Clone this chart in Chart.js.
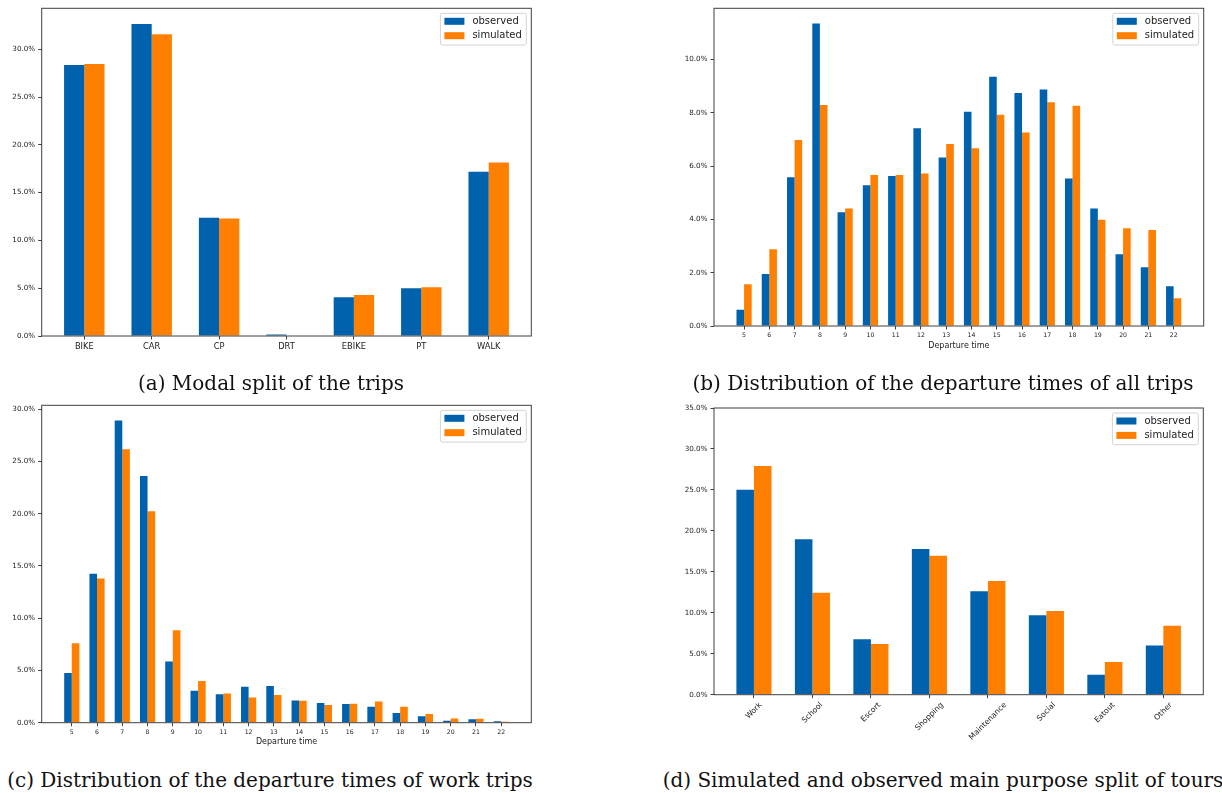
<!DOCTYPE html>
<html lang="en">
<head>
    <meta charset="UTF-8">
    <title>Observed vs simulated trips</title>
    <script src="https://cdn.jsdelivr.net/npm/chart.js"></script>
    <style>
        body { margin: 0; background: #fff; }
        #page { position: relative; width: 1222px; height: 793px; overflow: hidden; }
        canvas { position: absolute; }
        .cap {
            position: absolute; width: 600px; text-align: center;
            font: 20px "DejaVu Serif"; line-height: 24px; color: #111; white-space: nowrap;
        }
    </style>
</head>
<body>
<div id="page">
    <canvas id="modeChart" width="600" height="365" style="left:0;top:0"></canvas>
    <canvas id="allChart" width="582" height="365" style="left:640px;top:0"></canvas>
    <canvas id="workChart" width="600" height="365" style="left:0;top:393px"></canvas>
    <canvas id="purposeChart" width="582" height="365" style="left:640px;top:393px"></canvas>

    <div class="cap" style="left:-29px;top:371px">(a) Modal split of the trips</div>
    <div class="cap" style="left:643px;top:371px">(b) Distribution of the departure times of all trips</div>
    <div class="cap" style="left:-30px;top:768px">(c) Distribution of the departure times of work trips</div>
    <div class="cap" style="left:643px;top:768px">(d) Simulated and observed main purpose split of tours</div>
</div>

<script>
    // (a) modal split, percent
    const modes = ['BIKE', 'CAR', 'CP', 'DRT', 'EBIKE', 'PT', 'WALK'];
    const modeObserved = [28.36, 32.65, 12.38, 0.17, 4.05, 4.99, 17.19];
    const modeSimulated = [28.46, 31.57, 12.28, 0, 4.29, 5.09, 18.14];
    const modeTicks = [0, 5, 10, 15, 20, 25, 30];

    // (b) departure times of all trips, percent
    const hours = [5, 6, 7, 8, 9, 10, 11, 12, 13, 14, 15, 16, 17, 18, 19, 20, 21, 22];
    const allObserved = [0.61, 1.95, 5.58, 11.35, 4.27, 5.28, 5.63, 7.42, 6.32, 8.04, 9.35, 8.74, 8.87, 5.53, 4.41, 2.69, 2.20, 1.49];
    const allSimulated = [1.57, 2.88, 6.98, 8.29, 4.41, 5.66, 5.66, 5.72, 6.83, 6.67, 7.92, 7.26, 8.39, 8.26, 3.99, 3.67, 3.60, 1.04];
    const allTicks = [0, 2, 4, 6, 8, 10];

    // (c) departure times of work trips, percent
    const workObserved = [4.75, 14.24, 28.92, 23.60, 5.86, 3.06, 2.71, 3.44, 3.50, 2.13, 1.88, 1.78, 1.53, 0.92, 0.61, 0.19, 0.32, 0.13];
    const workSimulated = [7.61, 13.79, 26.15, 20.22, 8.85, 3.98, 2.80, 2.42, 2.64, 2.10, 1.69, 1.82, 2.04, 1.53, 0.83, 0.41, 0.38, 0.10];
    const workTicks = [0, 5, 10, 15, 20, 25, 30];

    // (d) main purpose of tours, percent
    const purposes = ['Work', 'School', 'Escort', 'Shopping', 'Maintenance', 'Social', 'Eatout', 'Other'];
    const purposeObserved = [25.03, 18.97, 6.76, 17.79, 12.62, 9.69, 2.44, 6.02];
    const purposeSimulated = [27.92, 12.45, 6.19, 16.97, 13.88, 10.22, 3.99, 8.42];
    const purposeTicks = [0, 5, 10, 15, 20, 25, 30, 35];

    const BLUE = '#0062AC';
    const ORANGE = '#FF7F00';
    const AXIS = '#404040';
    const TEXT = '#222';
    const FONT = '"DejaVu Sans"';

    Chart.defaults.font.family = FONT;
    Chart.defaults.color = TEXT;

    // axes frame + matplotlib style legend in the upper right corner
    const frameLegend = {
        id: 'frameLegend',
        afterDatasetsDraw(chart) {
            const { ctx, chartArea: a } = chart;
            ctx.save();
            ctx.strokeStyle = AXIS;
            ctx.lineWidth = 1;
            ctx.strokeRect(a.left, a.top, a.right - a.left, a.bottom - a.top);

            const sets = chart.data.datasets;
            ctx.font = '10px ' + FONT;
            const textW = Math.max(...sets.map(d => ctx.measureText(d.label).width));
            const w = textW + 36.5, h = 31.7;
            const x = a.right - 5 - w, y = a.top + 5;
            ctx.beginPath();
            if (ctx.roundRect) ctx.roundRect(x, y, w, h, 2); else ctx.rect(x, y, w, h);
            ctx.fillStyle = 'rgba(255,255,255,0.8)';
            ctx.fill();
            ctx.strokeStyle = '#d4d4d4';
            ctx.stroke();
            ctx.textBaseline = 'middle';
            sets.forEach((d, i) => {
                const cy = y + 8 + i * 14.4;
                ctx.fillStyle = d.backgroundColor;
                ctx.fillRect(x + 4, cy - 3.5, 20, 7);
                ctx.fillStyle = TEXT;
                ctx.fillText(d.label, x + 32, cy);
            });
            ctx.restore();
        }
    };

    // 45 degree labels centred under the ticks (chart d)
    const slantedLabels = {
        id: 'slantedLabels',
        afterDraw(chart) {
            const { ctx } = chart;
            const xs = chart.scales.x;
            const size = 7.7;
            ctx.save();
            ctx.font = size + 'px ' + FONT;
            ctx.fillStyle = TEXT;
            ctx.textAlign = 'center';
            ctx.textBaseline = 'middle';
            purposes.forEach((p, i) => {
                const ext = (ctx.measureText(p).width + size * 1.16) * Math.SQRT1_2;
                ctx.save();
                ctx.translate(xs.getPixelForValue(i), xs.top + 6 + ext / 2);
                ctx.rotate(-Math.PI / 4);
                ctx.fillText(p, 0, 0);
                ctx.restore();
            });
            ctx.restore();
        }
    };

    function barChart(id, o) {
        const plugins = [frameLegend];
        if (o.slanted) plugins.push(slantedLabels);
        const points = vals => vals.map((v, i) => ({ x: o.x[i], y: v }));
        return new Chart(document.getElementById(id), {
            type: 'bar',
            data: {
                datasets: [
                    { label: 'observed', data: points(o.observed), backgroundColor: BLUE, borderWidth: 0 },
                    { label: 'simulated', data: points(o.simulated), backgroundColor: ORANGE, borderWidth: 0 }
                ]
            },
            options: {
                responsive: false,
                animation: false,
                categoryPercentage: 0.6,
                barPercentage: 1,
                layout: { autoPadding: false, padding: o.padding },
                plugins: { legend: { display: false }, tooltip: { enabled: false } },
                scales: {
                    x: {
                        type: 'linear',
                        min: o.xMin,
                        max: o.xMax,
                        offset: false,
                        border: { display: false },
                        grid: { offset: false, drawOnChartArea: false, drawTicks: true, tickLength: 3.5, color: AXIS },
                        afterBuildTicks: s => { s.ticks = o.x.map(v => ({ value: v })); },
                        afterFit: s => { s.height = o.xHeight; },
                        ticks: {
                            display: !o.slanted,
                            autoSkip: false,
                            maxRotation: 0,
                            padding: 2,
                            font: { size: o.xFont },
                            callback: v => o.labels ? o.labels[v] : v
                        },
                        title: {
                            display: !!o.xTitle,
                            text: o.xTitle,
                            padding: 0,
                            font: { size: 8 }
                        }
                    },
                    y: {
                        min: 0,
                        max: o.yMax,
                        border: { display: false },
                        grid: { drawOnChartArea: false, drawTicks: true, tickLength: 3.5, color: AXIS },
                        afterBuildTicks: s => { s.ticks = o.yTicks.map(v => ({ value: v })); },
                        afterFit: s => { s.width = o.yWidth; },
                        ticks: {
                            padding: 3,
                            font: { size: 7.2 },
                            callback: v => v.toFixed(1) + '%'
                        }
                    }
                }
            },
            plugins: plugins
        });
    }

    const idx = arr => arr.map((_, i) => i);
    const top5 = (a, b) => Math.max(...a, ...b) * 1.05;

    barChart('modeChart', {
        x: idx(modes), labels: modes, observed: modeObserved, simulated: modeSimulated,
        xMin: -0.632, xMax: modes.length - 1 + 0.632, yMax: top5(modeObserved, modeSimulated), yTicks: modeTicks,
        xFont: 8.3, yWidth: 41.7, xHeight: 20,
        padding: { left: 0, top: 8.3, right: 68.7, bottom: 9 }
    });

    barChart('allChart', {
        x: hours, observed: allObserved, simulated: allSimulated,
        xMin: 3.81, xMax: 23.19, yMax: top5(allObserved, allSimulated), yTicks: allTicks,
        xFont: 6.2, xTitle: 'Departure time', yWidth: 74, xHeight: 24.3,
        padding: { left: 0, top: 8.3, right: 18.3, bottom: 14.7 }
    });

    barChart('workChart', {
        x: hours, observed: workObserved, simulated: workSimulated,
        xMin: 3.81, xMax: 23.19, yMax: top5(workObserved, workSimulated), yTicks: workTicks,
        xFont: 6.2, xTitle: 'Departure time', yWidth: 41.7, xHeight: 23.9,
        padding: { left: 0, top: 12.3, right: 68.7, bottom: 11.4 }
    });

    barChart('purposeChart', {
        x: idx(purposes), observed: purposeObserved, simulated: purposeSimulated, slanted: true,
        xMin: -0.683, xMax: purposes.length - 1 + 0.683, yMax: 35, yTicks: purposeTicks,
        xFont: 7.7, yWidth: 74, xHeight: 55,
        padding: { left: 0, top: 15, right: 18.7, bottom: 8.3 }
    });
</script>
</body>
</html>
